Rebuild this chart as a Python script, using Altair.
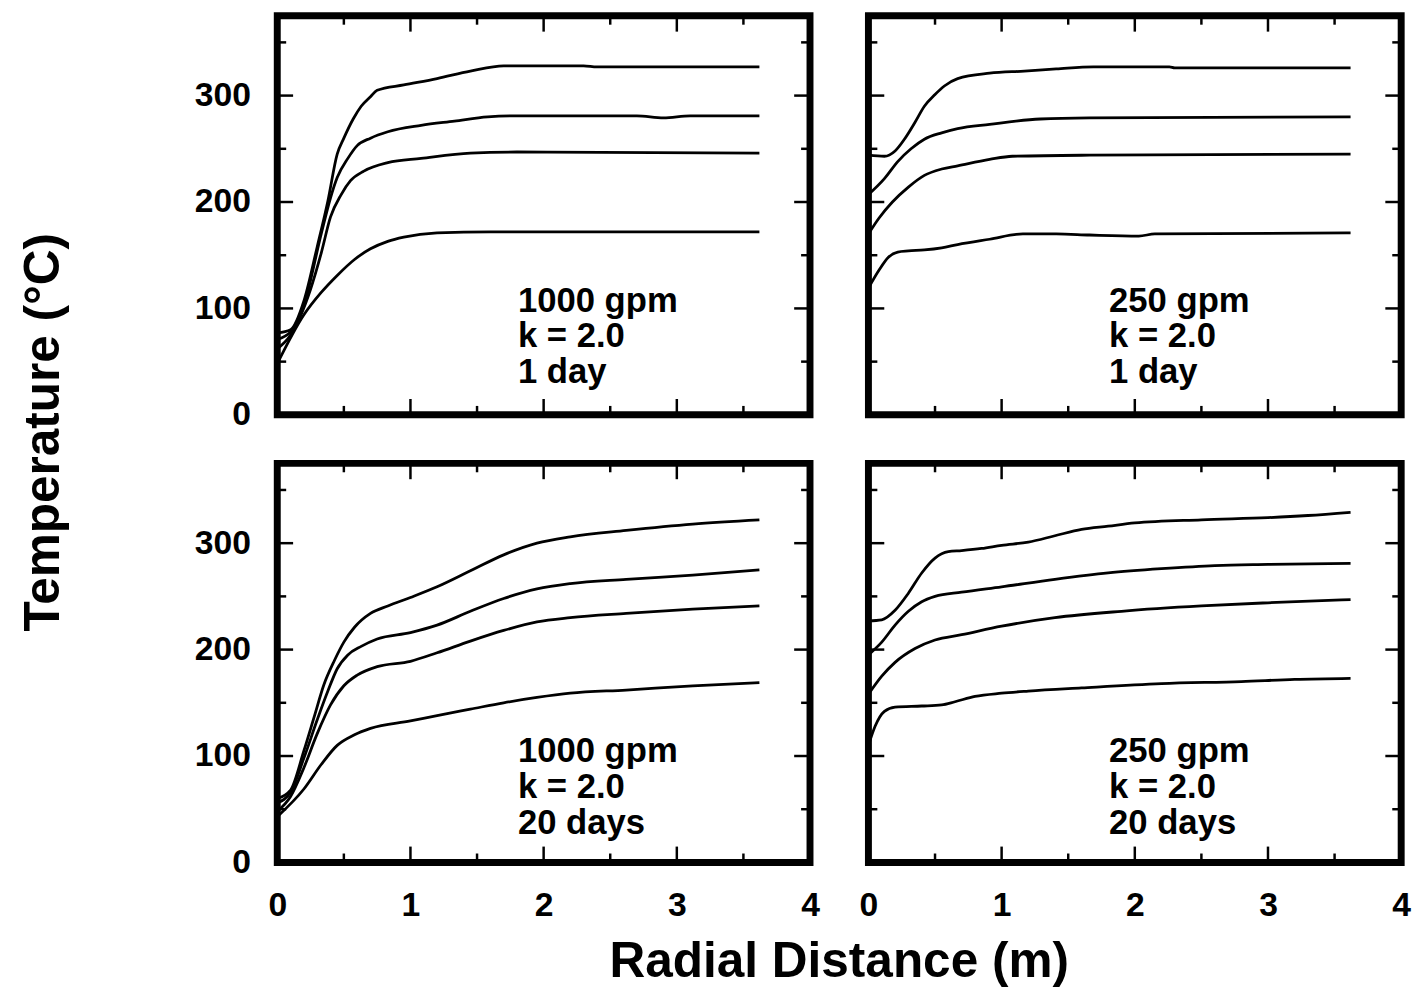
import altair as alt
import pandas as pd

# ---------------- data ----------------
# Top-left: 1000 gpm, k = 2.0, 1 day
TL_A_X = [0, 0.1, 0.2, 0.3, 0.38, 0.45, 0.5, 0.57, 0.63, 0.7, 0.75, 0.95, 1.2, 1.45, 1.7, 2.3, 2.4, 3.62]
TL_A_Y = [77, 80, 107, 158, 201, 245, 260, 278, 290, 299, 305, 310, 316, 323, 328, 328, 327, 327]
TL_B_X = [0, 0.1, 0.2, 0.33, 0.4, 0.45, 0.53, 0.6, 0.7, 0.83, 1.08, 1.33, 1.58, 1.8, 2.7, 2.9, 3.1, 3.62]
TL_B_Y = [71, 78, 103, 170, 204, 223, 241, 253, 260, 266, 272, 276, 280, 281, 281, 279, 281, 281]
TL_C_X = [0, 0.1, 0.25, 0.33, 0.4, 0.48, 0.55, 0.65, 0.83, 1.08, 1.45, 1.8, 3.62]
TL_C_Y = [62, 75, 118, 152, 186, 207, 220, 229, 237, 241, 246, 247, 246]
TL_D_X = [0, 0.2, 0.33, 0.45, 0.58, 0.7, 0.83, 0.95, 1.2, 1.6, 3.62]
TL_D_Y = [48, 94, 115, 131, 146, 156, 163, 167, 171, 172, 172]

# Top-right: 250 gpm, k = 2.0, 1 day
TR_A_X = [0, 0.12, 0.2, 0.27, 0.35, 0.42, 0.5, 0.57, 0.67, 0.91, 1.17, 1.41, 1.69, 2.26, 2.3, 3.62]
TR_A_Y = [244, 243, 248, 259, 275, 290, 301, 309, 316, 321, 323, 325, 327, 327, 326, 326]
TR_B_X = [0, 0.12, 0.22, 0.32, 0.42, 0.55, 0.67, 0.91, 1.29, 1.66, 3.62]
TR_B_Y = [207, 222, 238, 250, 259, 265, 269, 273, 278, 279, 280]
TR_C_X = [0, 0.08, 0.18, 0.3, 0.42, 0.55, 0.67, 0.91, 1.08, 1.66, 3.62]
TR_C_Y = [170, 185, 200, 214, 225, 231, 234, 240, 243, 244, 245]
TR_D_X = [0, 0.08, 0.15, 0.22, 0.3, 0.42, 0.55, 0.67, 0.91, 1.16, 1.41, 1.66, 2.03, 2.15, 3.62]
TR_D_Y = [119, 136, 148, 153, 154, 155, 157, 160, 165, 170, 170, 169, 168, 170, 171]

# Bottom-left: 1000 gpm, k = 2.0, 20 days
BL_A_X = [0, 0.1, 0.2, 0.28, 0.35, 0.43, 0.5, 0.58, 0.7, 0.83, 1.0, 1.2, 1.45, 1.7, 1.95, 2.2, 2.62, 3.12, 3.62]
BL_A_Y = [60, 68, 105, 138, 167, 190, 207, 221, 234, 241, 249, 259, 274, 289, 300, 306, 312, 318, 322]
BL_B_X = [0, 0.1, 0.2, 0.3, 0.38, 0.45, 0.53, 0.63, 0.75, 1.0, 1.2, 1.45, 1.7, 1.95, 2.2, 2.62, 3.12, 3.62]
BL_B_Y = [56, 66, 98, 134, 161, 182, 195, 203, 210, 216, 223, 236, 248, 257, 262, 266, 270, 275]
BL_C_X = [0, 0.1, 0.2, 0.3, 0.4, 0.5, 0.6, 0.75, 1.0, 1.2, 1.45, 1.7, 1.95, 2.2, 2.62, 3.12, 3.62]
BL_C_Y = [48, 62, 89, 121, 148, 166, 176, 184, 189, 197, 208, 218, 226, 230, 234, 238, 241]
BL_D_X = [0, 0.2, 0.33, 0.45, 0.58, 0.7, 1.0, 1.2, 1.45, 1.7, 1.95, 2.2, 2.62, 3.12, 3.62]
BL_D_Y = [43, 69, 92, 110, 120, 126, 133, 138, 144, 150, 155, 159, 162, 166, 169]

# Bottom-right: 250 gpm, k = 2.0, 20 days
BR_A_X = [0, 0.1, 0.2, 0.3, 0.4, 0.5, 0.6, 0.7, 0.85, 1.0, 1.2, 1.4, 1.6, 1.8, 2.0, 2.5, 3.0, 3.3, 3.62]
BR_A_Y = [227, 228, 237, 253, 272, 286, 292, 293, 295, 298, 301, 307, 313, 316, 319, 322, 324, 326, 329]
BR_B_X = [0, 0.1, 0.2, 0.3, 0.4, 0.5, 0.7, 1.0, 1.4, 1.8, 2.2, 2.6, 3.0, 3.62]
BR_B_Y = [195, 207, 223, 236, 245, 250, 254, 259, 266, 272, 276, 279, 280, 281]
BR_C_X = [0, 0.1, 0.2, 0.35, 0.5, 0.7, 1.0, 1.4, 1.9, 2.5, 3.0, 3.62]
BR_C_Y = [158, 175, 188, 201, 209, 214, 222, 230, 236, 241, 244, 247]
BR_D_X = [0, 0.05, 0.12, 0.2, 0.4, 0.55, 0.65, 0.8, 1.0, 1.2, 1.6, 2.2, 2.8, 3.2, 3.62]
BR_D_Y = [110, 128, 142, 146, 147, 148, 151, 156, 159, 161, 164, 168, 170, 172, 173]

TL_LABEL = ["1000 gpm", "k = 2.0", "1 day"]
TR_LABEL = ["250 gpm", "k = 2.0", "1 day"]
BL_LABEL = ["1000 gpm", "k = 2.0", "20 days"]
BR_LABEL = ["250 gpm", "k = 2.0", "20 days"]

X_LABELS = [0, 1, 2, 3, 4]
Y_LABELS = [0, 100, 200, 300]
X_MAJOR = [1, 2, 3]
X_MINOR = [0.5, 1.5, 2.5, 3.5]
Y_MAJOR = [100, 200, 300]
Y_MINOR = [50, 150, 250, 350]

X_TITLE = "Radial Distance (m)"
Y_TITLE = "Temperature (°C)"

# ---------------- layout / style ----------------
W, H = 538, 403
FONT = "Liberation Sans"
MAJ, MIN = 16, 9
TICK_W = 2.5

xscale = alt.Scale(domain=[0, 4], nice=False, zero=False)
yscale = alt.Scale(domain=[0, 375], nice=False, zero=False)


def make_axis(values, show, **kw):
    if not show:
        return None
    args = dict(values=values, domain=False, ticks=False, grid=False,
                labelFont=FONT, labelFontSize=34, labelFontWeight="bold",
                labelColor="black", labelPadding=27, labelFlush=False,
                labelOverlap=False)
    if "title" in kw:
        args.update(titleFont=FONT, titleFontSize=50, titleFontWeight="bold",
                    titleColor="black", titleAlign="center", titleBaseline="middle")
        args.update(kw)
    else:
        args["title"] = None
    return alt.Axis(**args)


def panel(curves, label, show_x, show_y, text_y, x_axis_kw=None, y_axis_kw=None):
    rows = []
    for cid, (xs, ys) in enumerate(curves):
        for xv, yv in zip(xs, ys):
            rows.append({"curve": cid, "x": xv, "y": yv})
    df = pd.DataFrame(rows)

    xa = make_axis(X_LABELS, show_x, **(x_axis_kw or {}))
    ya = make_axis(Y_LABELS, show_y, **(y_axis_kw or {}))
    X = lambda: alt.X("x:Q", scale=xscale, axis=xa)
    Y = lambda: alt.Y("y:Q", scale=yscale, axis=ya)

    lines = alt.Chart(df).mark_line(color="black", strokeWidth=2.8,
                                    interpolate="monotone").encode(
        x=X(), y=Y(), detail="curve:N")

    layers = [lines]
    for vals, ln in ((X_MAJOR, MAJ), (X_MINOR, MIN)):
        d = pd.DataFrame({"x": vals})
        layers.append(alt.Chart(d).mark_rule(color="black", strokeWidth=TICK_W).encode(
            x=X(), y=alt.value(0), y2=alt.value(ln)))
        layers.append(alt.Chart(d).mark_rule(color="black", strokeWidth=TICK_W).encode(
            x=X(), y=alt.value(H), y2=alt.value(H - ln)))
    for vals, ln in ((Y_MAJOR, MAJ), (Y_MINOR, MIN)):
        d = pd.DataFrame({"y": vals})
        layers.append(alt.Chart(d).mark_rule(color="black", strokeWidth=TICK_W).encode(
            y=Y(), x=alt.value(0), x2=alt.value(ln)))
        layers.append(alt.Chart(d).mark_rule(color="black", strokeWidth=TICK_W).encode(
            y=Y(), x=alt.value(W), x2=alt.value(W - ln)))

    txt = alt.Chart(pd.DataFrame({"t": ["\n".join(label)]})).mark_text(
        font=FONT, fontSize=35, fontWeight="bold", color="black",
        align="left", baseline="middle", lineBreak="\n", lineHeight=36).encode(
        text="t:N", x=alt.value(243), y=alt.value(text_y))
    layers.append(txt)

    return alt.layer(*layers).properties(width=W, height=H)


tl = panel([(TL_A_X, TL_A_Y), (TL_B_X, TL_B_Y), (TL_C_X, TL_C_Y), (TL_D_X, TL_D_Y)],
           TL_LABEL, False, True, 288,
           y_axis_kw=dict(title=Y_TITLE, titleX=-236, titleY=420, titleAngle=270))
tr = panel([(TR_A_X, TR_A_Y), (TR_B_X, TR_B_Y), (TR_C_X, TR_C_Y), (TR_D_X, TR_D_Y)],
           TR_LABEL, False, False, 288)
bl = panel([(BL_A_X, BL_A_Y), (BL_B_X, BL_B_Y), (BL_C_X, BL_C_Y), (BL_D_X, BL_D_Y)],
           BL_LABEL, True, True, 291,
           x_axis_kw=dict(title=X_TITLE, titleX=567, titleY=100, titleAngle=0))
br = panel([(BR_A_X, BR_A_Y), (BR_B_X, BR_B_Y), (BR_C_X, BR_C_Y), (BR_D_X, BR_D_Y)],
           BR_LABEL, True, False, 291)

chart = alt.concat(tl, tr, bl, br, columns=2,
                   spacing={"row": 49, "column": 59}, bounds="flush").properties(
    padding={"left": 15, "top": 6, "right": 5, "bottom": 5}
).configure(background="white").configure_view(stroke="black", strokeWidth=7)

chart.save("out.html", embed_options={"renderer": "svg", "actions": False})
